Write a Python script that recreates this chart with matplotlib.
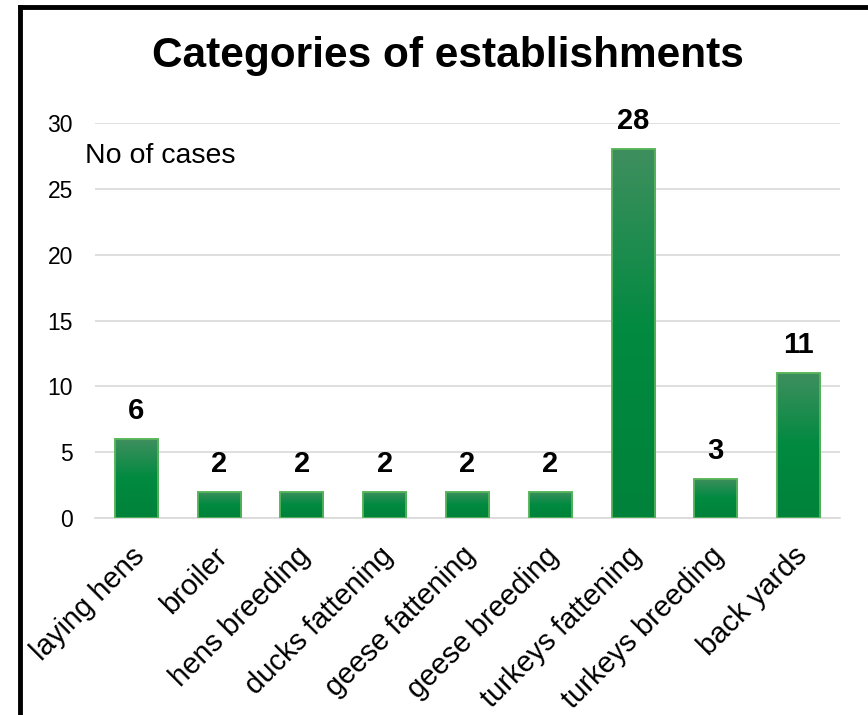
import matplotlib.pyplot as plt
import matplotlib.transforms as mtransforms
import numpy as np
from matplotlib.colors import LinearSegmentedColormap

categories = ['laying hens', 'broiler', 'hens breeding', 'ducks fattening',
              'geese fattening', 'geese breeding', 'turkeys fattening',
              'turkeys breeding', 'back yards']
cases = [6, 2, 2, 2, 2, 2, 28, 3, 11]
y_ticks = [0, 5, 10, 15, 20, 25, 30]

plt.rcParams['font.family'] = ['Liberation Sans', 'DejaVu Sans']

fig = plt.figure(figsize=(8.68, 7.15), dpi=100)
ax = fig.add_axes([95 / 868, 1 - 518 / 715, 745 / 868, 395 / 715])

x = np.arange(len(categories))
bars = ax.bar(x, cases, width=0.52, color='#008a40', edgecolor='#5cb85c',
              linewidth=1.2, zorder=3)

# vertical gradient inside each bar, lighter at the top
grad = LinearSegmentedColormap.from_list('g', ['#00823a', '#008a40', '#3f8f5e'])
gimg = np.linspace(0, 1, 256).reshape(-1, 1)
for b in bars:
    x0, y0 = b.get_x(), b.get_y()
    w, h = b.get_width(), b.get_height()
    im = ax.imshow(gimg, cmap=grad, origin='lower', aspect='auto',
                   extent=[x0, x0 + w, y0, y0 + h], zorder=3.5)
    im.set_clip_path(b)
    ax.bar(x0 + w / 2, h, width=w, fill=False, edgecolor='#5cb85c',
           linewidth=1.2, zorder=4)

for xi, v in zip(x, cases):
    ax.annotate(str(v), (xi, v), xytext=(0, 10), textcoords='offset points',
                ha='center', va='bottom', fontsize=21, fontweight='bold')

ax.set_xlim(-0.5, len(categories) - 0.5)
ax.set_ylim(0, 30)
ax.set_yticks(y_ticks)
ax.yaxis.grid(True, color='#d9d9d9', linewidth=1.2, zorder=0)
ax.set_axisbelow(True)
for s in ['top', 'right', 'left']:
    ax.spines[s].set_visible(False)
ax.spines['bottom'].set_color('#d9d9d9')
ax.spines['bottom'].set_linewidth(1.2)
ax.tick_params(axis='both', length=0)
ax.tick_params(axis='y', pad=16, labelsize=16.5)
ax.set_xticks(x)
ax.set_xticklabels(categories, rotation=45, ha='right', rotation_mode='anchor',
                   fontsize=21)
ax.tick_params(axis='x', pad=17)
shift = mtransforms.ScaledTranslation(-6 / 100, 0, fig.dpi_scale_trans)
for lbl in ax.get_xticklabels():
    lbl.set_transform(lbl.get_transform() + shift)

fig.text(448 / 868, 1 - 67 / 715, 'Categories of establishments', ha='center',
         va='baseline', fontsize=30.5, fontweight='bold')
fig.text(85 / 868, 1 - 156 / 715, 'No of cases', ha='left', va='center',
         fontsize=20.5)

# outer frame (top and left visible)
fig.add_artist(plt.Line2D([20 / 868, 20 / 868], [0, 1 - 7 / 715],
                          color='black', linewidth=3.5, transform=fig.transFigure))
fig.add_artist(plt.Line2D([20 / 868, 1], [1 - 7 / 715, 1 - 7 / 715],
                          color='black', linewidth=3.5, transform=fig.transFigure))

plt.savefig('out.png', dpi=100)
